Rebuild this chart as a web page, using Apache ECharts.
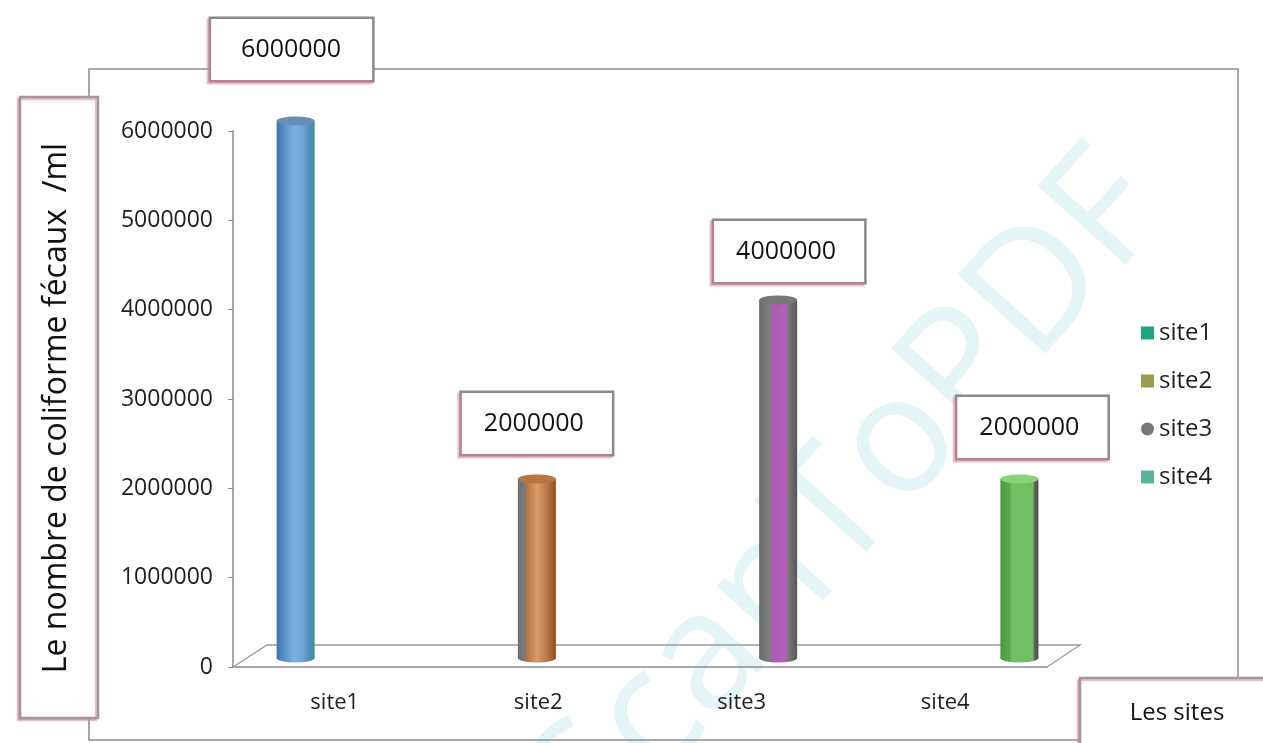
<!DOCTYPE html>
<html>
<head>
<meta charset="utf-8">
<script src="https://cdn.jsdelivr.net/npm/echarts@6/dist/echarts.min.js"></script>
<style>
  html, body { margin: 0; padding: 0; background: #fff; }
  #chart { width: 1263px; height: 743px; }
</style>
</head>
<body>
<div id="chart"></div>
<script>
// values
const sites = ['site1', 'site2', 'site3', 'site4'];
const coliformes = [6000000, 2000000, 4000000, 2000000];
const yTitle = 'Le nombre de coliforme fécaux  /ml';
const xTitle = 'Les sites';

// cylinder colours, left to right across the bar
const bodyStops = [
    [['#3f72a8', 0], ['#5289c2', 0.15], ['#7ab0e0', 0.45], ['#6ea4d8', 0.7], ['#4f86bf', 0.88], ['#2f9a80', 1]],
    [['#6e6e6e', 0], ['#7c7c7c', 0.2], ['#b7763f', 0.24], ['#d79c6e', 0.5], ['#b57240', 0.8], ['#8b5022', 1]],
    [['#6a6a6a', 0], ['#808080', 0.3], ['#ad5cb5', 0.33], ['#b15fb8', 0.72], ['#7a7a7a', 0.76], ['#555555', 1]],
    [['#4f9642', 0], ['#5da84e', 0.25], ['#73c064', 0.3], ['#72bf63', 0.85], ['#666666', 0.9], ['#444444', 1]]
];
const capColors = ['#6a8db8', '#b87540', '#777777', '#86d476'];
const legendColors = ['#1fa584', '#9a9a52', '#777777', '#5ab39a'];
const legendIcons = ['rect', 'rect', 'circle', 'rect'];
const labelShift = [[-4, -36], [0, -20], [11, -13], [13, -16]];

const FONT = '"Open Sans", "DejaVu Sans", sans-serif';

function gradient(stops) {
    return new echarts.graphic.LinearGradient(0, 0, 1, 0,
        stops.map(s => ({ offset: s[1], color: s[0] })));
}

const chart = echarts.init(document.getElementById('chart'));

const barSeries = sites.map((name, i) => ({
    name: name,
    type: 'bar',
    xAxisIndex: 1,
    yAxisIndex: 1,
    barWidth: 38,
    barGap: '-100%',
    z: 3,
    data: coliformes.map((v, j) => (j === i ? v : '-')),
    itemStyle: { color: gradient(bodyStops[i]) },
    label: {
        show: true,
        position: 'top',
        distance: 5,
        offset: labelShift[i],
        formatter: p => String(p.value),
        fontFamily: FONT,
        fontSize: 25,
        lineHeight: 26,
        color: '#111',
        backgroundColor: '#fff',
        borderColor: '#8a8a8a',
        borderWidth: 2.5,
        padding: i === 0 ? [18, 31, 17, 30] : [18, 28, 17, 22],
        shadowColor: 'rgba(230,120,150,0.5)',
        shadowOffsetX: -2,
        shadowOffsetY: 2
    }
}));

const capTop = {
    name: 'cap',
    type: 'pictorialBar',
    xAxisIndex: 1,
    yAxisIndex: 1,
    symbol: 'circle',
    symbolSize: [38, 9],
    symbolPosition: 'end',
    symbolOffset: [0, '-50%'],
    z: 4,
    data: coliformes.map((v, i) => ({ value: v, itemStyle: { color: capColors[i] } }))
};

const capBottom = {
    name: 'base',
    type: 'pictorialBar',
    xAxisIndex: 1,
    yAxisIndex: 1,
    symbol: 'circle',
    symbolSize: [38, 9],
    symbolPosition: 'start',
    symbolOffset: [0, '50%'],
    z: 2,
    data: coliformes.map((v, i) => ({ value: v, itemStyle: { color: gradient(bodyStops[i]) } }))
};

const option = {
    animation: false,
    backgroundColor: '#fff',
    textStyle: { fontFamily: FONT },
    legend: {
        orient: 'vertical',
        left: 1141,
        top: 321,
        padding: 0,
        itemWidth: 13,
        itemHeight: 13,
        itemGap: 24,
        selectedMode: false,
        textStyle: { fontFamily: FONT, fontSize: 24, lineHeight: 24, color: '#1e1e1e' },
        data: sites.map((s, i) => ({
            name: s,
            icon: legendIcons[i],
            itemStyle: { color: legendColors[i] }
        }))
    },
    grid: [
        { left: 233, right: 216, top: 131, bottom: 76 },
        { left: 175, width: 965, top: 121, bottom: 85 }
    ],
    xAxis: [
        {
            type: 'category',
            gridIndex: 0,
            data: sites,
            axisLine: { lineStyle: { color: '#8a8a8a', width: 1.5 } },
            axisTick: { length: 6, lineStyle: { color: '#8a8a8a' } },
            axisLabel: { fontFamily: FONT, fontSize: 22, color: '#1e1e1e', margin: 25 }
        },
        { type: 'category', gridIndex: 1, data: sites, show: false }
    ],
    yAxis: [
        {
            type: 'value',
            gridIndex: 0,
            min: 0,
            max: 6000000,
            interval: 1000000,
            axisLine: { show: true, lineStyle: { color: '#8a8a8a', width: 1.5 } },
            axisTick: { show: true, length: 5, lineStyle: { color: '#8a8a8a' } },
            splitLine: { show: false },
            axisLabel: {
                fontFamily: FONT, fontSize: 23, color: '#1e1e1e', margin: 20,
                formatter: v => String(v)
            }
        },
        { type: 'value', gridIndex: 1, min: 0, max: 6000000, show: false }
    ],
    graphic: [
        // scan watermark
        {
            type: 'text',
            x: 850, y: 500,
            rotation: 48 * Math.PI / 180,
            z: 0,
            style: {
                text: 'ScanToPDF',
                font: '165px ' + FONT,
                fill: '#e3f5f7',
                align: 'center', textAlign: 'center',
                verticalAlign: 'middle', textVerticalAlign: 'middle'
            }
        },
        // chart frame
        {
            type: 'rect',
            z: 0,
            shape: { x: 89, y: 69, width: 1149, height: 671 },
            style: { fill: 'none', stroke: '#8c8c8c', lineWidth: 1.5 }
        },
        // 3D floor
        {
            type: 'polyline',
            z: 1,
            shape: { points: [[233, 667], [267, 645], [1080, 645], [1047, 667]] },
            style: { fill: 'none', stroke: '#9a9a9a', lineWidth: 1.3 }
        },
        // y title box
        {
            type: 'rect',
            z: 10,
            shape: { x: 20, y: 97, width: 78, height: 621 },
            style: {
                fill: '#fff', stroke: '#9a9a9a', lineWidth: 2.5,
                shadowColor: 'rgba(230,120,150,0.5)', shadowOffsetX: -2, shadowOffsetY: 2
            }
        },
        {
            type: 'text',
            z: 11,
            x: 57, y: 408,
            rotation: Math.PI / 2,
            style: {
                text: yTitle,
                font: '32px ' + FONT,
                fill: '#111',
                align: 'center', textAlign: 'center',
                verticalAlign: 'middle', textVerticalAlign: 'middle'
            }
        },
        // x title box
        {
            type: 'rect',
            z: 10,
            shape: { x: 1080, y: 678, width: 195, height: 75 },
            style: {
                fill: '#fff', stroke: '#9a9a9a', lineWidth: 2.5,
                shadowColor: 'rgba(230,120,150,0.5)', shadowOffsetX: -2, shadowOffsetY: 2
            }
        },
        {
            type: 'text',
            z: 11,
            x: 1177, y: 713,
            style: {
                text: xTitle,
                font: '24px ' + FONT,
                fill: '#111',
                align: 'center', textAlign: 'center',
                verticalAlign: 'middle', textVerticalAlign: 'middle'
            }
        }
    ],
    series: [...barSeries, capTop, capBottom]
};

chart.setOption(option);
</script>
</body>
</html>
